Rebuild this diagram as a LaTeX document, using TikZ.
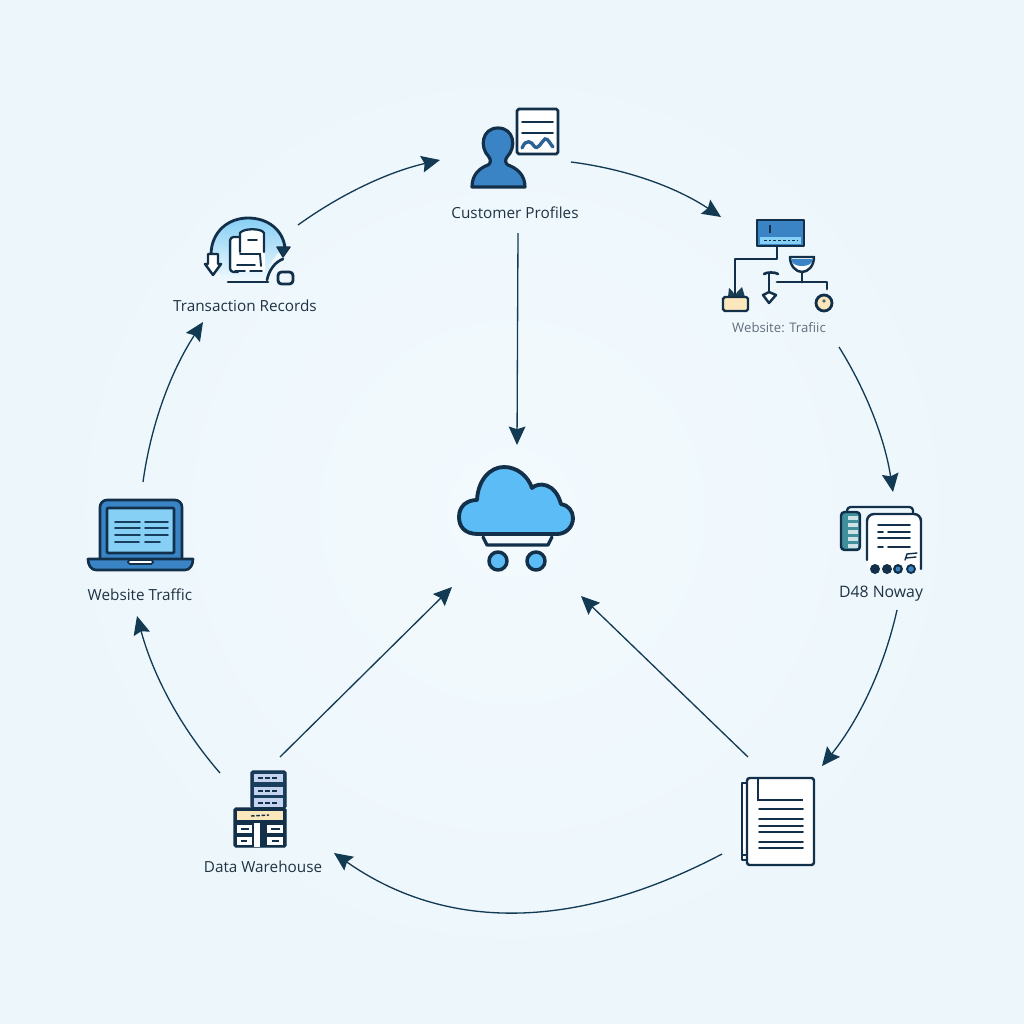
\documentclass[tikz,border=0pt]{standalone}
\usepackage{fontspec}
\setmainfont{Open Sans}
\usetikzlibrary{arrows.meta}
\definecolor{ink}{HTML}{12304A}
\definecolor{arrowc}{HTML}{123A52}
\definecolor{midblue}{HTML}{3A84C6}
\definecolor{sky}{HTML}{5CBDF6}
\definecolor{pale}{HTML}{86CFF5}
\definecolor{cream}{HTML}{FBE7BC}
\definecolor{teal}{HTML}{3F8F9C}
\definecolor{slot}{HTML}{C5D3EE}
\definecolor{labelc}{HTML}{1F3344}
\definecolor{bgin}{HTML}{F3FAFE}
\definecolor{bgout}{HTML}{ECF6FB}
\tikzset{
  x=0.02cm,y=-0.02cm,
  flow/.style={draw=arrowc,line width=0.75pt,-{Stealth[length=10.5pt,width=9.5pt,inset=1.5pt]}},
  lab/.style={font=\fontsize{8.7pt}{11pt}\selectfont,text=labelc,inner sep=0pt},
  ic/.style={draw=ink,line width=1.7pt,line join=round,line cap=round},
  icthin/.style={draw=ink,line width=1.1pt,line cap=round},
}
\begin{document}
\begin{tikzpicture}
\useasboundingbox (0,0) rectangle (1024,1024);
\shade[inner color=bgin,outer color=bgout] (0,0) rectangle (1024,1024);

% ---------- labels
\node[lab] (profiles) at (515,213) {Customer Profiles};
\node[lab,text=labelc!70,font=\fontsize{7.5pt}{10pt}\selectfont] (traffic2) at (779,328) {Website: Trafiic};
\node[lab,font=\fontsize{9pt}{11pt}\selectfont] (noway) at (881,594) {D48 Noway};
\node[lab] (warehouse) at (263,867) {Data Warehouse};
\node[lab] (traffic1) at (140,595) {Website Traffic};
\node[lab] (records) at (245,306) {Transaction Records};

% ---------- connector ends
\coordinate (cp-out) at (571,162);
\coordinate (wt-in) at (721,217);
\coordinate (wt-out) at (839,347);
\coordinate (dn-in) at (893,492);
\coordinate (dn-out) at (897,610);
\coordinate (doc-in) at (822,766);
\coordinate (doc-out) at (722,854);
\coordinate (dw-in) at (334,853);
\coordinate (dw-out) at (220,773);
\coordinate (lap-in) at (137,616);
\coordinate (lap-out) at (143,482);
\coordinate (tr-in) at (203,322);
\coordinate (tr-out) at (298,225);
\coordinate (cp-in) at (440,160);
\coordinate (cp-down) at (518,233);
\coordinate (cl-top) at (517,445);
\coordinate (dw-up) at (280,757);
\coordinate (cl-left) at (452,587);
\coordinate (doc-up) at (748,757);
\coordinate (cl-right) at (581,596);

\draw[flow] (cp-out) .. controls (626,169) and (676,187) .. (wt-in);
\draw[flow] (wt-out) .. controls (867,392) and (885,440) .. (dn-in);
\draw[flow] (dn-out) .. controls (884,668) and (859,720) .. (doc-in);
\draw[flow] (doc-out) .. controls (574,932) and (445,931) .. (dw-in);
\draw[flow] (dw-out) .. controls (180,727) and (153,675) .. (lap-in);
\draw[flow] (lap-out) .. controls (151,424) and (171,371) .. (tr-in);
\draw[flow] (tr-out) .. controls (341,194) and (388,172) .. (cp-in);
\draw[flow] (cp-down) -- (cl-top);
\draw[flow] (dw-up) -- (cl-left);
\draw[flow] (doc-up) -- (cl-right);

% ---------- cloud
\draw[ic,fill=sky,line width=2.2pt]
  (478,534) .. controls (464,534) and (459,526) .. (459,517)
  .. controls (459,506) and (467,500) .. (477,500)
  .. controls (478,480) and (490,467) .. (504,467)
  .. controls (517,467) and (528,476) .. (532,488)
  .. controls (538,482) and (555,482) .. (561,504)
  .. controls (568,505) and (573,511) .. (573,518)
  .. controls (573,527) and (566,534) .. (557,534) -- cycle;
\draw[ic,line width=1.8pt] (483,537) -- (487,545) -- (548,545) -- (552,537);
\draw[ic,fill=sky,line width=2pt] (498,561) circle (9);
\draw[ic,fill=sky,line width=2pt] (536,561) circle (9);

% ---------- customer profile icon
\draw[ic,fill=midblue,line width=1.8pt]
  (472,187) .. controls (472,174) and (480,168) .. (488,165)
  .. controls (491,163) and (491,160) .. (489,157)
  .. controls (479,147) and (482,128) .. (498,128)
  .. controls (514,128) and (517,147) .. (507,157)
  .. controls (505,160) and (505,163) .. (508,165)
  .. controls (516,168) and (525,174) .. (525,187) -- cycle;
\draw[ic,fill=white,rounded corners=1pt,line width=1.6pt] (517,109) rectangle (558,154);
\draw[icthin] (522,122) -- (553,122);
\draw[icthin] (522,133) -- (553,133);
\draw[draw=midblue!60!ink,line width=1.9pt,line cap=round] (522,148) .. controls (526,138) and (532,142) .. (534,146) .. controls (538,151) and (541,142) .. (545,139) .. controls (548,138) and (550,144) .. (553,147);

% ---------- website traffic (flow) icon
\draw[ic,line width=1.6pt] (777,246) -- (777,259) -- (735,259) -- (735,297);
\draw[ic,fill=midblue,line width=1.4pt] (757,220) rectangle (804,246);
\fill[pale] (760,237) rectangle (801,244);
\draw[ink,line width=1pt,dash pattern=on 1.5pt off 1.2pt] (764,240.5) -- (798,240.5);
\draw[ink,line width=1.4pt] (770,225) -- (770,233);
\fill[ink!85!teal] (728,297) -- (729,288) -- (733,292) -- (735,296) -- (737,292) -- (742,287) -- (745,297) -- cycle;
\draw[ic,fill=cream,line width=1.4pt,rounded corners=1pt] (723,297) rectangle (748,311);
\draw[ic,fill=white,line width=1.4pt] (790,257) -- (814,257) .. controls (814,266) and (808,272) .. (802,272) .. controls (796,272) and (790,266) .. (790,257) -- cycle;
\fill[midblue] (791,259) -- (813,259) .. controls (812,264) and (808,266) .. (802,266) .. controls (796,266) and (792,264) .. (791,259) -- cycle;
\draw[ic,line width=1.6pt] (802,272) -- (802,282);
\draw[ic,line width=1.6pt] (777,282) -- (827,282) -- (827,289);
\draw[ic,fill=cream,line width=1.6pt] (824,303) circle (8);
\fill[ink!70!cream] (824,301) circle (1.8);
\draw[ic,line width=1.5pt] (764,274) .. controls (766,272) and (776,272) .. (778,274);
\draw[ic,line width=1.5pt] (769,273) -- (769,292);
\draw[ic,fill=white,line width=1.4pt] (763,295) -- (769,292) -- (776,295) -- (769,303) -- cycle;

% ---------- D48 Noway icon
\draw[ic,line width=1.3pt,rounded corners=2pt] (847,549) -- (847,507) -- (913,507) -- (913,516);
\draw[ic,fill=teal,line width=1.4pt,rounded corners=2pt] (841,512) rectangle (860,550);
\foreach \yy in {516,523,530,537,544}{\fill[white!75!teal] (848,\yy) rectangle (858,\yy+4);}
\fill[white,rounded corners=4pt] (867,514) rectangle (921,570);
\draw[ic,line width=1.4pt,rounded corners=4pt] (867,560) -- (867,514) -- (921,514) -- (921,569);
\draw[icthin] (878,525) -- (910,525);
\draw[icthin] (878,532) -- (883,532) (888,532) -- (910,532);
\draw[icthin] (878,538) -- (910,538);
\draw[icthin] (878,547) -- (883,547) (888,547) -- (910,547);
\draw[icthin,line width=.8pt] (905,560) -- (907,554) -- (917,553) (906,558) -- (916,557);
\foreach \xx in {875,887,898,911}{\fill[ink] (\xx,569) circle (5);}
\fill[midblue] (898,569) circle (2.4);
\fill[midblue] (911,569) circle (2.8);

% ---------- document icon
\draw[ic,fill=white,line width=1.3pt] (742,783) rectangle (747,860);
\draw[icthin] (742,855) -- (747,855);
\draw[ic,fill=white,line width=1.4pt,rounded corners=1.5pt] (747,778) rectangle (814,865);
\draw[icthin,line cap=butt] (758,778) -- (758,800) -- (803,800);
\foreach \yy in {809,819,826,832,842,848}{\draw[icthin] (759,\yy) -- (803,\yy);}

% ---------- warehouse icon
\draw[fill=ink!85!midblue,draw=ink,line width=.8pt,rounded corners=1pt] (251,771) rectangle (286,808);
\fill[slot] (254,774) rectangle (283,782);
\fill[slot] (254,787) rectangle (283,795);
\fill[slot] (254,798) rectangle (283,807);
\foreach \yy in {778,791,803}{\draw[ink,line width=.7pt,dash pattern=on 3pt off 1pt] (258,\yy) -- (279,\yy);}
\draw[fill=ink,draw=ink,line width=.8pt,rounded corners=1pt] (234,808) rectangle (286,847);
\fill[cream] (237,811) rectangle (283,820);
\draw[ink,line width=.8pt,dash pattern=on 2pt off 1pt] (251,816) -- (269,815);
\fill[white] (237,825) rectangle (252,833);
\fill[white] (237,837) rectangle (252,845);
\fill[white] (267,825) rectangle (283,833);
\fill[white] (267,837) rectangle (283,845);
\fill[white] (254,823) rectangle (260,847);
\draw[ink,line width=.7pt] (241,829) -- (249,829) (241,841) -- (247,841) (271,829) -- (280,829) (272,841) -- (279,841);

% ---------- laptop icon
\draw[ic,fill=midblue,line width=1.5pt,rounded corners=4pt] (100,558) -- (100,500) -- (182,500) -- (182,558);
\draw[ic,fill=pale,line width=1.5pt,rounded corners=.5pt] (107,508) rectangle (174,553);
\foreach \yy in {522,528,535}{\draw[icthin,draw=ink!85!midblue] (115,\yy) -- (140,\yy) (145,\yy) -- (168,\yy);}
\draw[icthin,draw=ink!85!midblue] (115,542) -- (139,542) (145,542) -- (160,542);
\draw[ic,fill=midblue,line width=1.5pt] (88,559) -- (193,559) .. controls (193,565) and (190,570) .. (185,570) -- (96,570) .. controls (91,570) and (88,565) .. (88,559) -- cycle;
\draw[draw=ink,fill=white,line width=.9pt,rounded corners=1pt] (128,560) rectangle (153,564);

% ---------- transaction records icon
\shade[top color=pale,bottom color=bgin] (211,255) .. controls (211,232) and (228,218) .. (248,218) .. controls (268,218) and (285,230) .. (287,248) .. controls (276,252) and (268,262) .. (267,282) -- (228,282) .. controls (220,276) and (213,268) .. (211,255) -- cycle;
\draw[ic,line width=1.6pt] (211,255) .. controls (211,232) and (228,218) .. (248,218) .. controls (268,218) and (283,230) .. (285,248);
\draw[ic,fill=arrowc,line width=.8pt] (277,247) -- (290,247) -- (283,257) -- cycle;
\draw[ic,fill=white,line width=1.4pt] (208,254) -- (218,254) -- (218,264) -- (221,264) -- (213,275) -- (205,264) -- (208,264) -- cycle;
\fill[white] (232,238) -- (240,238) -- (240,231) .. controls (243,228) and (262,228) .. (265,233) -- (265,272) -- (232,272) -- cycle;
\draw[ic,line width=1.3pt,rounded corners=2pt] (238,272) -- (230,272) -- (230,237) -- (240,237);
\draw[ic,line width=1.3pt] (240,252) -- (240,233) .. controls (243,228) and (262,228) .. (264,233) -- (264,252);
\draw[icthin] (248,240) -- (257,240);
\draw[icthin] (240,254) -- (260,254) -- (261,266);
\draw[icthin] (237,265) -- (255,265);
\draw[icthin] (235,271) -- (245,271) (250,271) -- (262,271);
\draw[ic,line width=1.6pt] (228,282) -- (268,282);
\draw[ic,line width=1.5pt] (267,280) .. controls (269,270) and (275,262) .. (283,259);
\draw[ic,line width=1.6pt,rounded corners=2pt] (278,272) rectangle (293,284);
\end{tikzpicture}
\end{document}
